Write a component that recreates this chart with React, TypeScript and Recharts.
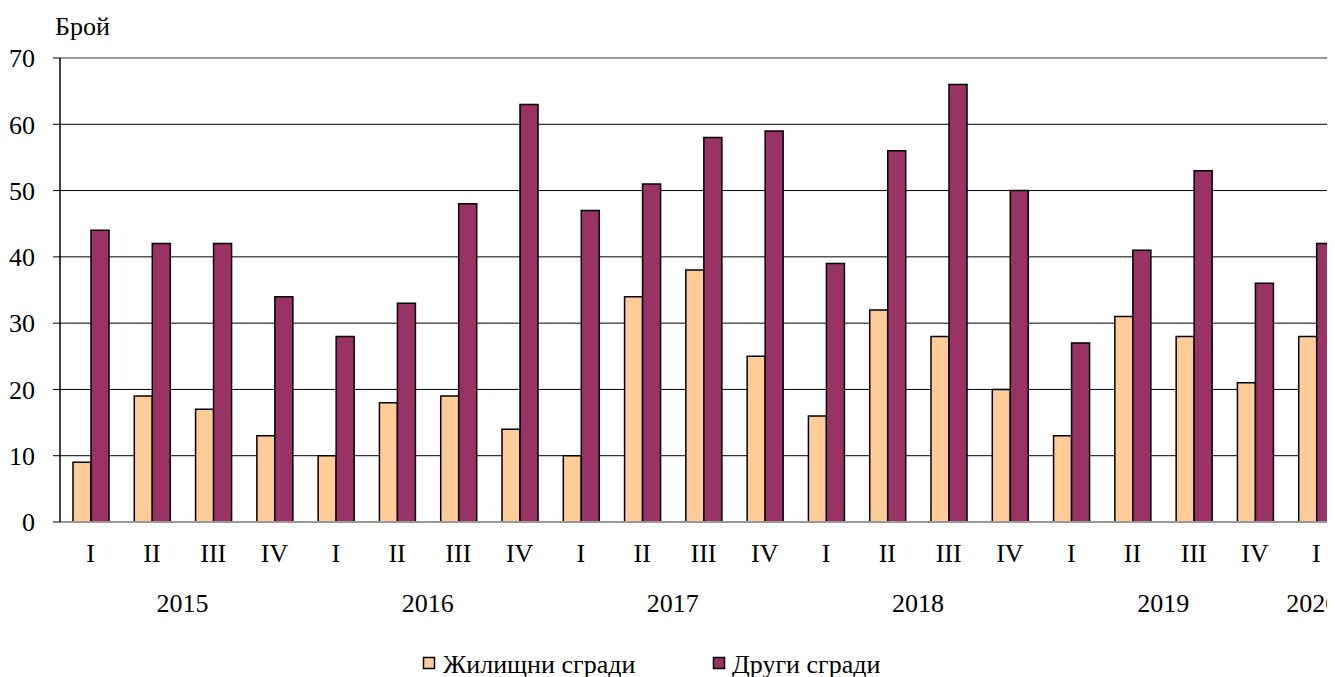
import React from "react";
import { BarChart, Bar, XAxis, YAxis, CartesianGrid, ReferenceLine } from "recharts";

const quarters = ["I","II","III","IV","I","II","III","IV","I","II","III","IV","I","II","III","IV","I","II","III","IV","I"];
const years = ["2015","2015","2015","2015","2016","2016","2016","2016","2017","2017","2017","2017","2018","2018","2018","2018","2019","2019","2019","2019","2020"];
const residential = [9,19,17,13,10,18,19,14,10,34,38,25,16,32,28,20,13,31,28,21,28];
const other = [44,42,42,34,28,33,48,63,47,51,58,59,39,56,66,50,27,41,53,36,42];
const yTicks = [0,10,20,30,40,50,60,70];

const seriesNames = { res: "Жилищни сгради", oth: "Други сгради" };
const colors = { res: "#FFCC99", oth: "#993366" };

const data = quarters.map((q, i) => ({ key: i, q, year: years[i], res: residential[i], oth: other[i] }));

const FONT = "'Liberation Serif', 'Times New Roman', serif";
const FS = 26;

const CH_W = 1400;
const CH_H = 669;
const MARGIN = { top: 50, right: 61, left: 0, bottom: 65 };
const Y_W = 52;
const BAND = (CH_W - MARGIN.left - MARGIN.right - Y_W) / quarters.length;

const QuarterTick = (props: any) => {
  const { x, y, payload } = props;
  const q = quarters[payload.index ?? payload.value];
  return (
    <text x={x} y={y + 31} textAnchor="middle" dominantBaseline="central" fontFamily={FONT} fontSize={FS} fill="#000">
      {q}
    </text>
  );
};

const YearTick = (props: any) => {
  const { x, y, payload } = props;
  const i = payload.index ?? payload.value;
  if (i > 0 && years[i - 1] === years[i]) return null;
  const count = years.filter((yy) => yy === years[i]).length;
  return (
    <text x={x + ((count - 1) / 2) * BAND - (count === 1 ? 4 : 0)} y={y + 41} textAnchor="middle" dominantBaseline="central" fontFamily={FONT} fontSize={FS} fill="#000">
      {years[i]}
    </text>
  );
};

const LegendBox = () => (
  <svg width={600} height={30} style={{ position: "absolute", left: 405, top: 640 }}>
    <rect x={10.5} y={9.5} width={11} height={11} fill={colors.res} stroke="#000" strokeWidth={1.5} />
    <text x={30} y={16} dominantBaseline="central" fontFamily={FONT} fontSize={FS} fill="#000">{seriesNames.res}</text>
    <rect x={300.5} y={9.5} width={11} height={11} fill={colors.oth} stroke="#000" strokeWidth={1.5} />
    <text x={319} y={16} dominantBaseline="central" fontFamily={FONT} fontSize={FS} fill="#000">{seriesNames.oth}</text>
  </svg>
);

export default function App() {
  return (
    <div style={{ position: "relative", width: 1327, height: CH_H, overflow: "hidden" }}>
      <BarChart width={CH_W} height={CH_H} data={data} margin={MARGIN} barSize={18} barGap={0}>
        <CartesianGrid vertical={false} stroke="#000" strokeWidth={1} />
        <ReferenceLine y={70} stroke="#999" strokeWidth={2} />
        <XAxis dataKey="key" xAxisId="q" height={40} interval={0} tickLine={false} tickSize={0} tickMargin={0} axisLine={{ stroke: "#999", strokeWidth: 2 }} tick={<QuarterTick />} />
        <XAxis dataKey="key" xAxisId="y" height={50} interval={0} tickLine={false} tickSize={0} tickMargin={0} axisLine={false} tick={<YearTick />} />
        <YAxis width={Y_W} domain={[0, 70]} ticks={yTicks} interval={0} tickSize={7} tickMargin={18} axisLine={{ stroke: "#000", strokeWidth: 1.5 }} tickLine={{ stroke: "#000" }} tick={{ fontFamily: FONT, fontSize: FS, fill: "#000" }} />
        <Bar xAxisId="q" dataKey="res" name={seriesNames.res} fill={colors.res} stroke="#000" strokeWidth={1.5} isAnimationActive={false} />
        <Bar xAxisId="q" dataKey="oth" name={seriesNames.oth} fill={colors.oth} stroke="#000" strokeWidth={1.5} isAnimationActive={false} />
      </BarChart>
      <svg width={100} height={40} style={{ position: "absolute", left: 40, top: 0 }}>
        <text x={7} y={18} dominantBaseline="central" fontFamily={FONT} fontSize={FS} fill="#000">Брой</text>
      </svg>
      <LegendBox />
    </div>
  );
}
